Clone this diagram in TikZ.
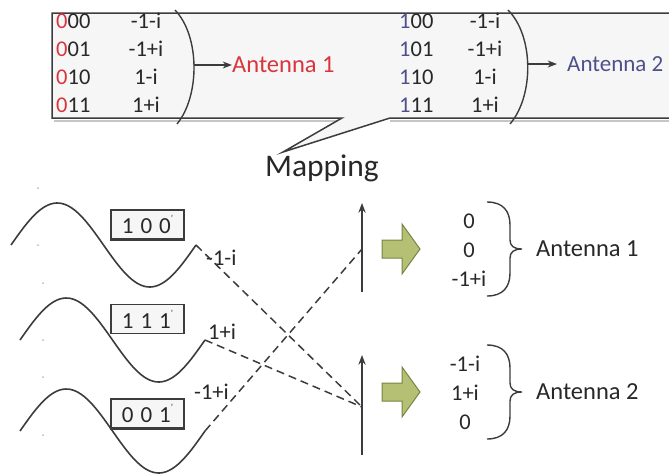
\documentclass[tikz,border=0pt]{standalone}
\usepackage{fontspec}
\setmainfont{Carlito}
\usetikzlibrary{arrows.meta}

\definecolor{lineGray}{RGB}{60,60,60}
\definecolor{txtGray}{RGB}{40,40,40}
\definecolor{boxFill}{RGB}{246,246,246}
\definecolor{antRed}{RGB}{218,52,62}
\definecolor{antBlue}{RGB}{78,80,140}
\definecolor{arrGreen}{RGB}{182,192,116}
\definecolor{arrEdge}{RGB}{118,132,68}

\newcommand{\symtick}{\raisebox{1.1ex}{\fontsize{9}{9}\selectfont'}}

\begin{document}
\begin{tikzpicture}[x=1pt,y=-1pt,>=Stealth,
    txt/.style={inner sep=0pt,text=txtGray,font=\fontsize{22.5}{28}\selectfont},
    bigtxt/.style={inner sep=0pt,text=txtGray,font=\fontsize{24.5}{28}\selectfont},
    wave/.style={lineGray,line width=1.6pt},
    mapline/.style={lineGray,line width=1.5pt,dash pattern=on 8pt off 5pt},
    symbox/.style={draw=lineGray,line width=1.2pt,fill=boxFill,minimum width=73pt,minimum height=29pt,inner sep=0pt,text=txtGray,font=\fontsize{23}{24}\selectfont}]

    \useasboundingbox (0,0) rectangle (669,475);
    \clip (0,0) rectangle (669,475);

    % Mapping table with callout
    \draw [gray!45,line width=2pt] (54,121) -- (342,121) (390,121) -- (720,121);
    \filldraw [fill=boxFill,draw=lineGray,line width=1.5pt]
        (52,13) -- (720,13) -- (720,118) -- (390,118) -- (283,152) -- (342,118) -- (52,118) -- cycle;

    % Table rows (antenna 1 left, antenna 2 right)
    \foreach \code/\val [count=\k,evaluate=\k as \ry using 21+28*(\k-1)] in {00/-1-i,01/-1+i,10/1-i,11/1+i} {
        \node [txt,anchor=west] (codeA\k) at (56,\ry) {\textcolor{antRed}{0}\code};
        \node [txt] (valA\k) at (146,\ry) {\val};
        \node [txt,anchor=west] (codeB\k) at (399,\ry) {\textcolor{antBlue}{1}\code};
        \node [txt] (valB\k) at (485,\ry) {\val};
    }

    % Parentheses and arrows to the antennas
    \draw [lineGray,line width=1.4pt] (175,10) .. controls (200,36) and (200,96) .. (177,124);
    \draw [lineGray,line width=1.4pt] (508,10) .. controls (534,36) and (534,96) .. (510,124);
    \node [bigtxt,anchor=west,text=antRed] (antTopA) at (232,65) {Antenna 1};
    \node [bigtxt,anchor=west,text=antBlue,font=\fontsize{23}{28}\selectfont] (antTopB) at (567,64) {Antenna 2};
    \coordinate (parA) at (194,65);
    \coordinate (parB) at (528,64);
    \draw [->,lineGray,line width=1.4pt] (parA) -- (antTopA.west);
    \draw [->,lineGray,line width=1.4pt,shorten >=10pt] (parB) -- (antTopB.west);

    \node [txt,font=\fontsize{31.5}{36}\selectfont] (mapping) at (322,168) {Mapping};

    % Specks on the left
    \foreach \p in {(38,188),(38,245),(43,283),(43,340),(43,377),(43,435)}
        \fill [gray!55] \p circle (1);

    % Carrier waves
    \foreach \xs/\yc/\n in {11/245/1,20/340/2,20/431/3} {
        \draw [wave] plot [domain=0:185,samples=70] ({\xs+\x},{\yc-42*sin(\x/185*360)});
        \coordinate (wEnd\n) at (\xs+185,\yc);
    }

    % Symbol boxes
    \node [symbox] (sym1) at (147.5,224.5) {1\hspace{0.3em}0\hspace{0.3em}0\symtick};
    \node [symbox] (sym2) at (147.5,319) {1\hspace{0.3em}1\hspace{0.3em}1\symtick};
    \node [symbox] (sym3) at (147.5,413.5) {0\hspace{0.3em}0\hspace{0.3em}1\symtick};
    \draw [lineGray,line width=2.6pt] (sym1.south west) -- (sym1.south east);
    \draw [lineGray,line width=1.8pt] (sym3.south west) -- (sym3.south east);

    % Symbol labels
    \node [txt,anchor=west] (lab1) at (206,258) {-1-i};
    \node [txt,anchor=west] (lab2) at (208,332) {1+i};
    \node [txt,anchor=west] (lab3) at (194,392) {-1+i};

    % Antenna axes
    \coordinate (axA0) at (362,292);
    \coordinate (axA1) at (362,203);
    \coordinate (axB0) at (362,455);
    \coordinate (axB1) at (362,355);
    \coordinate (hitA) at (362,249);
    \coordinate (hitB) at (362,407);
    \draw [->,lineGray,line width=1.5pt] (axA0) -- (axA1);
    \draw [->,lineGray,line width=1.5pt] (axB0) -- (axB1);

    % Dashed mapping lines
    \draw [mapline] (wEnd1) -- (hitB);
    \draw [mapline] (wEnd2) -- (hitB);
    \draw [mapline] (wEnd3) -- (hitA);

    % Block arrows, symbol vectors, braces
    \foreach \yc/\n/\xv/\vals in {249/1/469/{0\\0\\-1+i},392/2/465/{-1-i\\1+i\\0}} {
        \filldraw [fill=arrGreen,draw=arrEdge,line width=1pt]
            (382,\yc-9) -- (402,\yc-9) -- (402,\yc-25) -- (420,\yc) -- (402,\yc+25) -- (402,\yc+9) -- (382,\yc+9) -- cycle;
        \node [txt,align=center,font=\fontsize{22.5}{29}\selectfont] (vec\n) at (\xv,\yc+1) {\vals};
        \draw [lineGray,line width=1.4pt]
            (487,\yc-47) .. controls (503,\yc-47) and (510,\yc-38) .. (510,\yc-24) -- (510,\yc-9)
            .. controls (510,\yc-3) and (514,\yc) .. (522,\yc)
            .. controls (514,\yc) and (510,\yc+3) .. (510,\yc+9) -- (510,\yc+24)
            .. controls (510,\yc+38) and (503,\yc+47) .. (487,\yc+47);
        \node [bigtxt,anchor=west] (ant\n) at (536,\yc) {Antenna \n};
    }

\end{tikzpicture}
\end{document}
